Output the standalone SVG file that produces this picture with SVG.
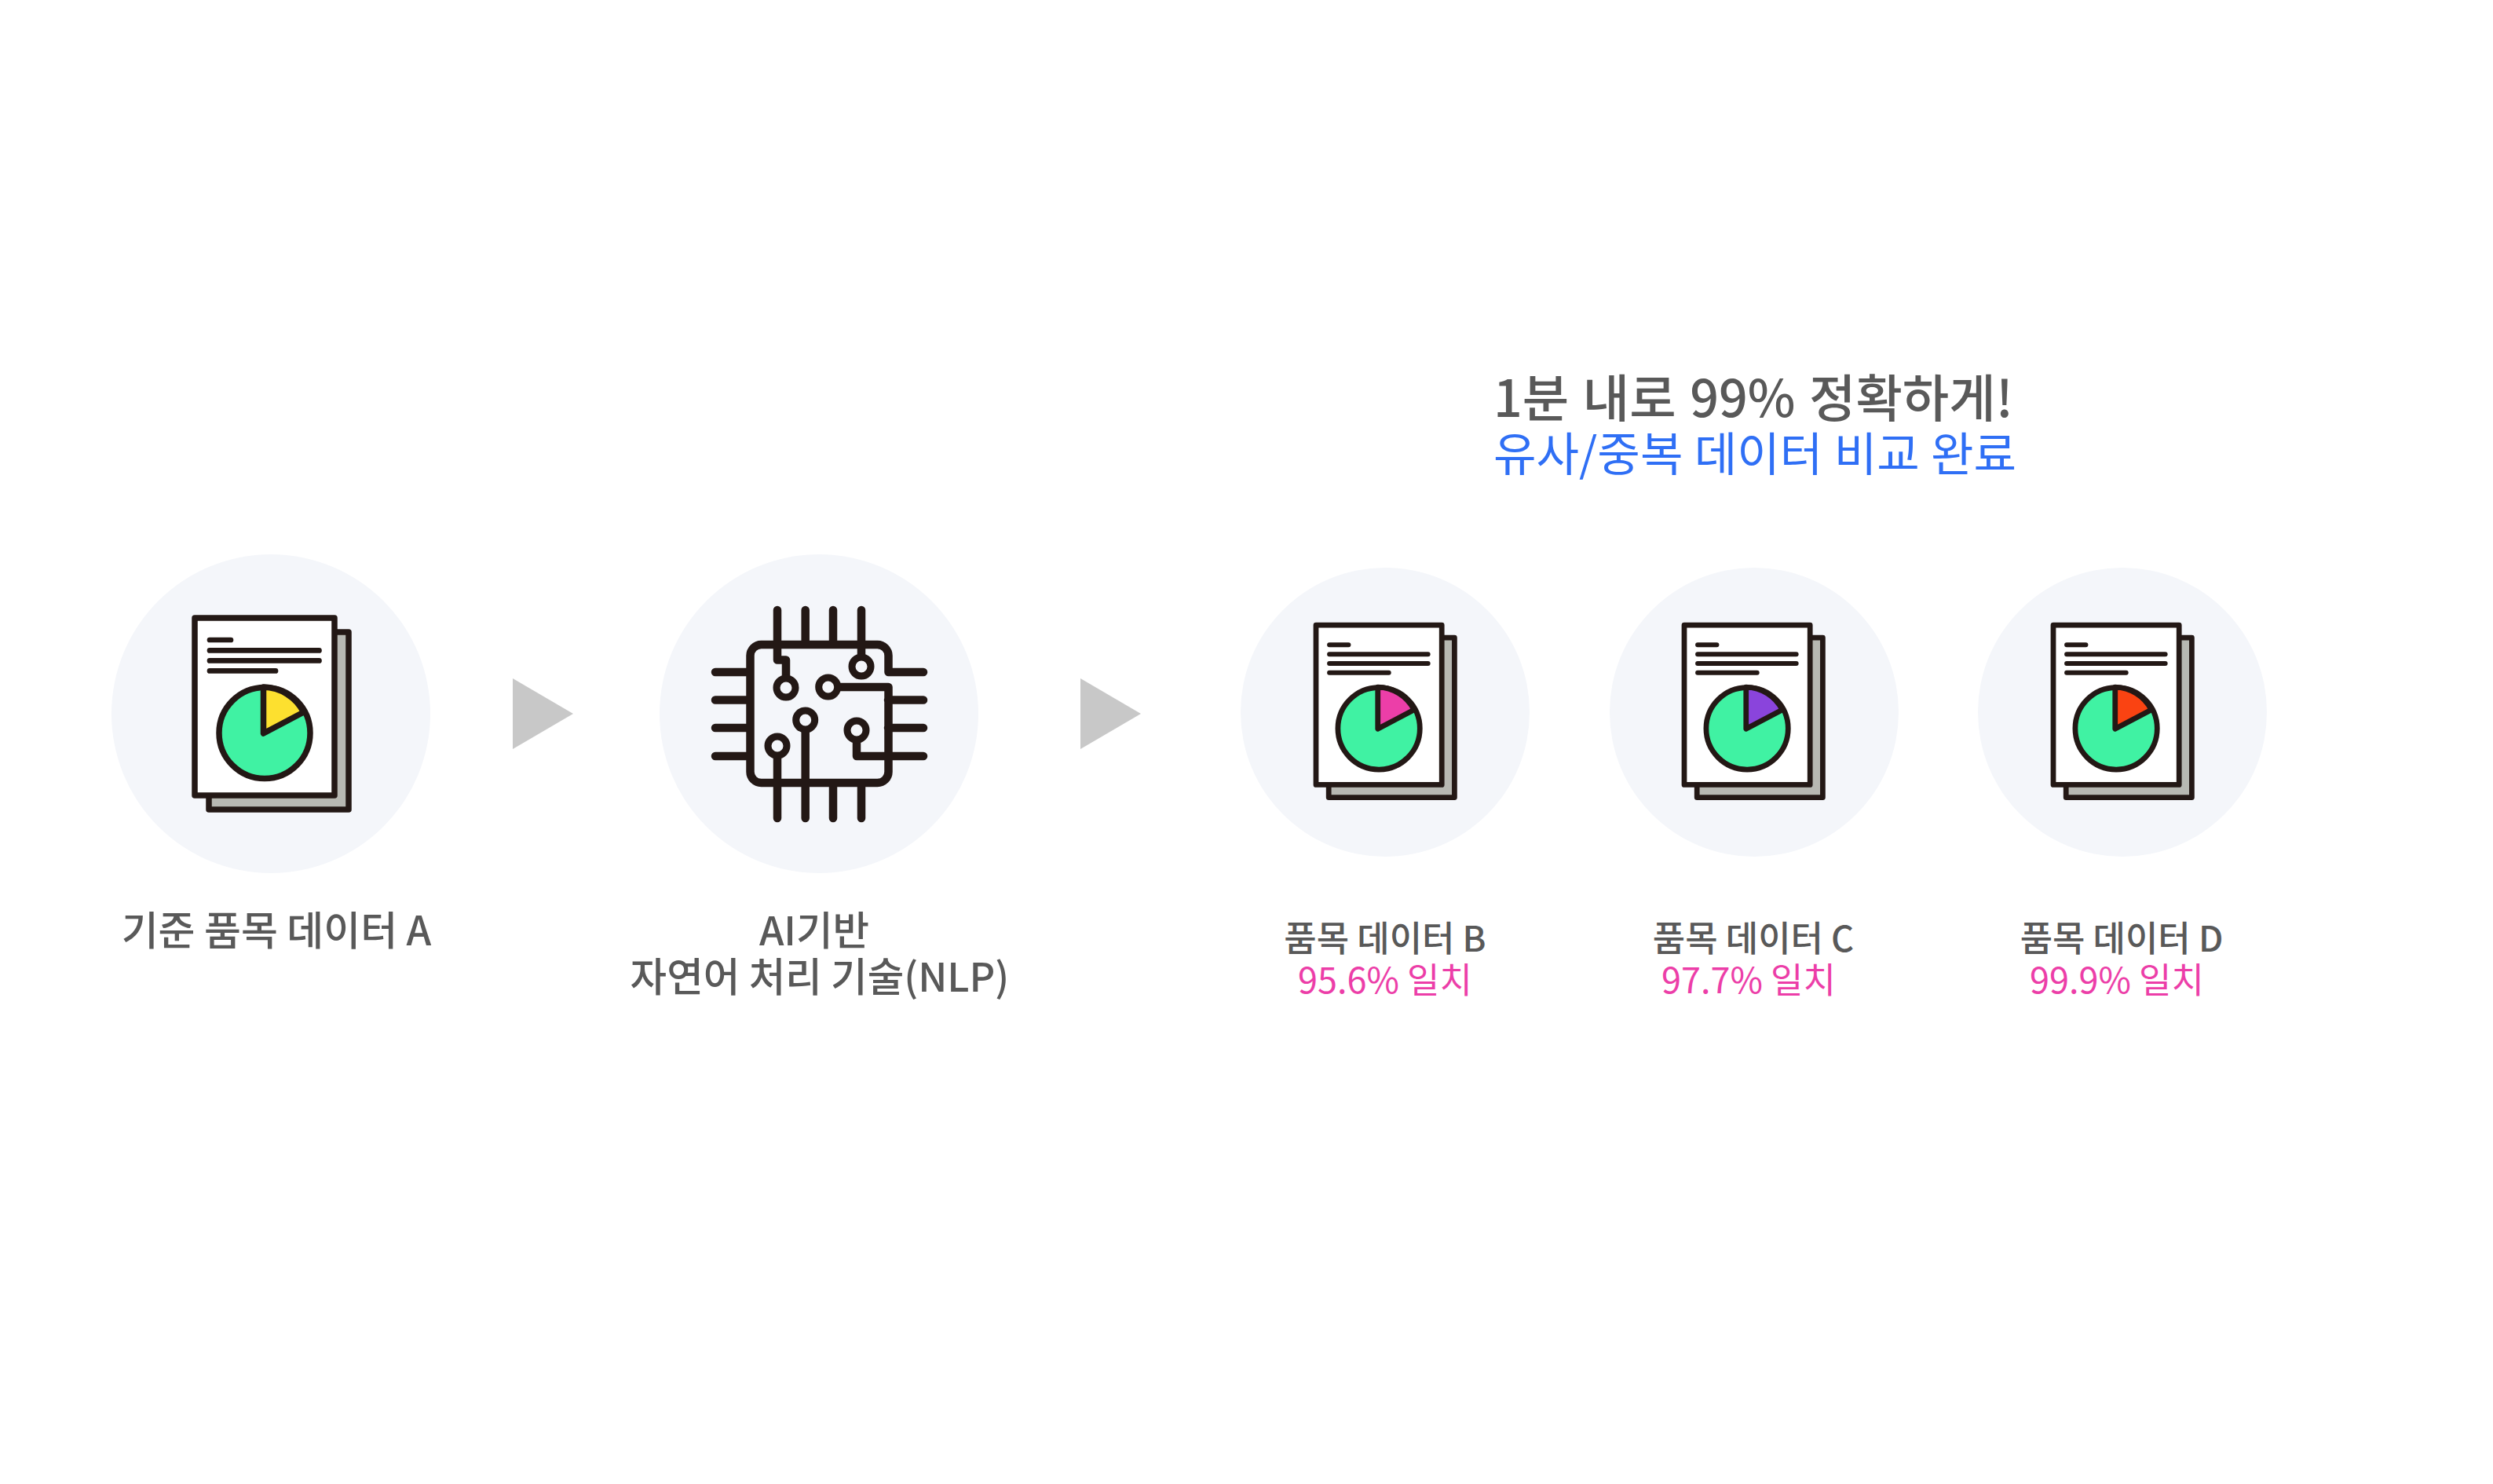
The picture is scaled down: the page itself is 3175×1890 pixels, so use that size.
<svg xmlns="http://www.w3.org/2000/svg" width="3175" height="1890" viewBox="0 0 3175 1890">
<style>
text{font-family:"Noto Sans CJK KR","Noto Sans",sans-serif;fill:#595959}
.c{text-anchor:middle}
.bg{fill:#f4f6fa}
.ln{fill:none;stroke:#231815;stroke-linecap:round;stroke-linejoin:round}
.pink{fill:#ec3ea8}
.l{font-size:45px;font-weight:500}
.p{font-size:45px}
.m{font-size:51px;font-weight:500}
.n{font-size:50.600px;font-weight:500}
.w{stroke:#231815;stroke-width:7.500;stroke-linejoin:round}
</style>
<defs>
<g id="doc">
<rect x="266" y="805" width="178" height="226" fill="#b7b8b2" stroke="#231815" stroke-width="7.500" stroke-linejoin="round"/>
<rect x="248" y="787" width="178" height="226" fill="#fff" stroke="#231815" stroke-width="7.500" stroke-linejoin="round"/>
<path class="ln" stroke-width="6.700" d="M267 815H294M267 828.400H406.500M267 841.400H406.500M267 854.400H351"/>
<circle cx="337" cy="933.500" r="58" fill="#40f2a3" stroke="#231815" stroke-width="7.500"/>
</g>
<g id="chipnode"><circle r="12" fill="#f4f6fa" stroke="#231815" stroke-width="9"/></g>
</defs>
<rect width="3175" height="1890" fill="#fff"/>
<g id="connectors">
<polygon points="653,864 730,909 653,954" fill="#c8c8c8"/>
<polygon points="1376,864 1453,909 1376,954" fill="#c8c8c8"/>
</g>
<g id="node-a">
<circle class="bg" cx="345" cy="909" r="203"/>
<use href="#doc"/>
<path class="w" d="M335.500 934V875A59 59 0 0 1 386.700 907Z" fill="#fde02f"/>
<text class="c m" x="352" y="1204">기준 품목 데이터 A</text>
</g>
<g id="node-ai">
<circle class="bg" cx="1043" cy="909" r="203"/>
<path class="ln" stroke-width="10.500" d="M1131.500 856H1176M1131.500 856V835A14 14 0 0 0 1117.500 821H969.500A14 14 0 0 0 955.500 835V983A14 14 0 0 0 969.500 997H1117.500A14 14 0 0 0 1131.500 983V875H1055M990 777V840.500H1001V865M1025.700 777V821M1061 777V821M1097 777V849M911 856H955M911 891.500H955M911 927H955M911 963H955M1131 891.500H1176M1131 927H1176M1091 930V963H1176M990 950V1042M1025.700 917V1042M1061 997V1042M1097 997V1042"/>
<use href="#chipnode" x="1001" y="876"/>
<use href="#chipnode" x="1054.700" y="875"/>
<use href="#chipnode" x="1097" y="849"/>
<use href="#chipnode" x="1025.700" y="917"/>
<use href="#chipnode" x="990" y="950"/>
<use href="#chipnode" x="1091" y="930"/>
<text class="c n" x="1037" y="1204">AI기반</text>
<text class="c n" x="1044" y="1263">자연어 처리 기술(NLP)</text>
</g>
<g id="node-b">
<circle class="bg" cx="1764" cy="907" r="184"/>
<g transform="translate(1676 796) scale(.9) translate(-248 -787)"><use href="#doc"/>
<path class="w" d="M335.500 934V875A59 59 0 0 1 386.700 907Z" fill="#ec3ea8"/></g>
<text class="c l" x="1764" y="1212">품목 데이터 B</text>
<text class="c p pink" x="1764" y="1265">95.6% 일치</text>
</g>
<g id="node-c">
<circle class="bg" cx="2234" cy="907" r="184"/>
<g transform="translate(2145 796) scale(.9) translate(-248 -787)"><use href="#doc"/>
<path class="w" d="M335.500 934V875A59 59 0 0 1 386.700 907Z" fill="#8a44dc"/></g>
<text class="c l" x="2233" y="1212">품목 데이터 C</text>
<text class="c p pink" x="2227" y="1265">97.7% 일치</text>
</g>
<g id="node-d">
<circle class="bg" cx="2703" cy="907" r="184"/>
<g transform="translate(2615 796) scale(.9) translate(-248 -787)"><use href="#doc"/>
<path class="w" d="M335.500 934V875A59 59 0 0 1 386.700 907Z" fill="#fa4312"/></g>
<text class="c l" x="2702" y="1212">품목 데이터 D</text>
<text class="c p pink" x="2696" y="1265">99.9% 일치</text>
</g>
<g id="title">
<text x="1902" y="531" font-size="64.600" font-weight="500" word-spacing="3">1분 내로 99% 정확하게!</text>
<text x="1902" y="600" font-size="59.300" word-spacing="1" style="fill:#2f6ff5">유사/중복 데이터 비교 완료</text>
</g>
</svg>
